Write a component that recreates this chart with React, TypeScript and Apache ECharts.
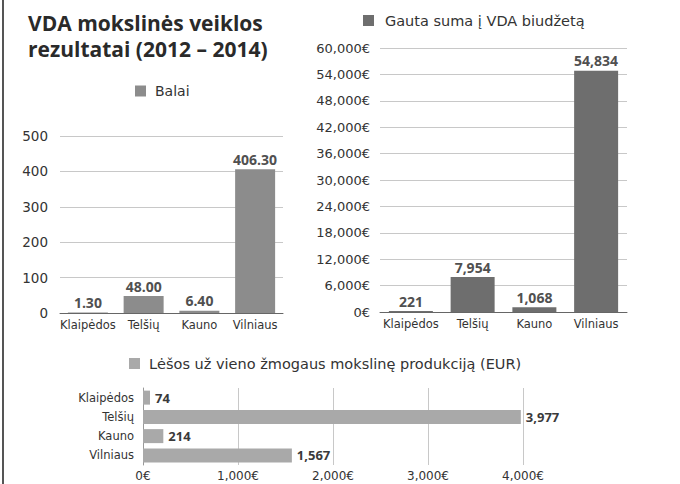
import React, { useEffect, useRef } from "react";
import * as echarts from "echarts";

const cities = ["Klaipėdos", "Telšių", "Kauno", "Vilniaus"];
const balai = [1.3, 48.0, 6.4, 406.3];
const balaiLabels = ["1.30", "48.00", "6.40", "406.30"];
const suma = [221, 7954, 1068, 54834];
const lesos = [74, 3977, 214, 1567];

const FONT = "'DejaVu Sans', sans-serif";
const BOLD = "'Open Sans', sans-serif";
const fmt = (v: number) => v.toLocaleString("en-US");

export default function App() {
  const ref = useRef<HTMLDivElement>(null);
  useEffect(() => {
    document.body.style.margin = "0";
    const chart = echarts.init(ref.current!, null, { renderer: "svg" });
    const axisLabel = { color: "#333", fontFamily: FONT, fontSize: 11.5, interval: 0 };
    const valLabel = { color: "#333", fontFamily: FONT, fontSize: 12.5 };
    const split = { show: true, lineStyle: { color: "#c8c8c8", width: 1 } };
    const barLabel = {
      show: true,
      fontFamily: BOLD,
      fontWeight: "bold" as const,
      fontSize: 14,
      color: "#505050",
    };
    chart.setOption({
      animation: false,
      backgroundColor: "#fff",
      textStyle: { fontFamily: FONT },
      title: {
        text: "VDA mokslinės veiklos\nrezultatai (2012 – 2014)",
        left: 23,
        top: 5,
        textStyle: { fontFamily: BOLD, fontWeight: "bold", fontSize: 21, lineHeight: 26, color: "#2a2a2a" },
      },
      graphic: [
        { type: "line", shape: { x1: 3, y1: 0, x2: 3, y2: 484 }, style: { stroke: "#555", lineWidth: 2 } },
      ],
      legend: [
        {
          data: ["Balai"], left: 130, top: 79, icon: "rect", itemWidth: 11, itemHeight: 11, itemGap: 8,
          textStyle: { fontFamily: FONT, fontSize: 14, color: "#333", padding: [0, 0, 0, 4] },
        },
        {
          data: ["Gauta suma į VDA biudžetą"], left: 358, top: 8, icon: "rect", itemWidth: 11, itemHeight: 11,
          textStyle: { fontFamily: FONT, fontSize: 14.5, color: "#333", padding: [0, 0, 0, 6] },
        },
        {
          data: ["Lėšos už vieno žmogaus mokslinę produkciją (EUR)"], left: 124, top: 351, icon: "rect", itemWidth: 11, itemHeight: 11,
          textStyle: { fontFamily: FONT, fontSize: 14.5, color: "#333", padding: [0, 0, 0, 4] },
        },
      ],
      grid: [
        { left: 60, width: 223, top: 136, height: 177 },
        { left: 380, width: 247, top: 48, height: 264 },
        { left: 143, width: 380, top: 388, height: 77 },
      ],
      xAxis: [
        {
          gridIndex: 0, type: "category", data: cities,
          axisLine: { lineStyle: { color: "#666" } }, axisTick: { show: false },
          axisLabel: { ...axisLabel, margin: 6 },
        },
        {
          gridIndex: 1, type: "category", data: cities,
          axisLine: { lineStyle: { color: "#666" } }, axisTick: { show: false },
          axisLabel: { ...axisLabel, margin: 6 },
        },
        {
          gridIndex: 2, type: "value", min: 0, max: 4000, interval: 1000,
          axisLine: { show: false }, axisTick: { show: false }, splitLine: split,
          axisLabel: { ...valLabel, fontSize: 12, margin: 5, formatter: (v: number) => fmt(v) + "€" },
        },
      ],
      yAxis: [
        {
          gridIndex: 0, type: "value", min: 0, max: 500, interval: 100,
          axisLine: { show: false }, axisTick: { show: false }, splitLine: split,
          axisLabel: { ...valLabel, fontSize: 13.5, margin: 12 },
        },
        {
          gridIndex: 1, type: "value", min: 0, max: 60000, interval: 6000,
          axisLine: { show: false }, axisTick: { show: false }, splitLine: split,
          axisLabel: { ...valLabel, fontSize: 13, margin: 10, formatter: (v: number) => fmt(v) + "€" },
        },
        {
          gridIndex: 2, type: "category", data: cities, inverse: true,
          axisLine: { lineStyle: { color: "#999" } }, axisTick: { show: false },
          axisLabel: { ...axisLabel, margin: 9 },
        },
      ],
      series: [
        {
          name: "Balai", type: "bar", xAxisIndex: 0, yAxisIndex: 0, data: balai, barWidth: 40,
          itemStyle: { color: "#8c8c8c" },
          label: { ...barLabel, position: "top", distance: 3, formatter: (p: any) => balaiLabels[p.dataIndex] },
        },
        {
          name: "Gauta suma į VDA biudžetą", type: "bar", xAxisIndex: 1, yAxisIndex: 1, data: suma, barWidth: 44,
          itemStyle: { color: "#6e6e6e" },
          label: { ...barLabel, position: "top", distance: 3, formatter: (p: any) => fmt(p.value) },
        },
        {
          name: "Lėšos už vieno žmogaus mokslinę produkciją (EUR)", type: "bar", xAxisIndex: 2, yAxisIndex: 2, data: lesos, barWidth: 14,
          itemStyle: { color: "#a9a9a9" },
          label: { ...barLabel, fontSize: 13, color: "#3a3a3a", position: "right", distance: 5, formatter: (p: any) => fmt(p.value) },
        },
      ],
    });
    return () => chart.dispose();
  }, []);
  return <div ref={ref} style={{ width: 680, height: 484 }} />;
}
